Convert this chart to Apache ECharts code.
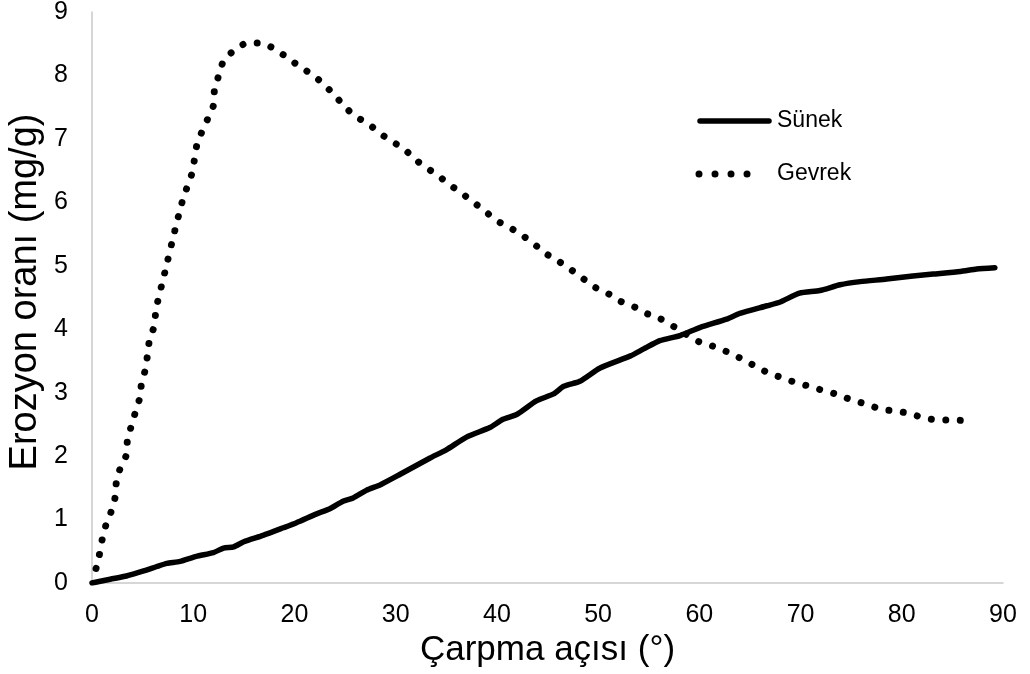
<!DOCTYPE html>
<html>
<head>
<meta charset="utf-8">
<script src="https://cdn.jsdelivr.net/npm/echarts@6/dist/echarts.min.js"></script>
<style>
html,body{margin:0;padding:0;background:#fff;}
#c{width:1030px;height:674px;}
</style>
</head>
<body>
<div id="c"></div>
<script>
const xTicks = [0,10,20,30,40,50,60,70,80,90];
const yTicks = [0,1,2,3,4,5,6,7,8,9];
const seriesNames = ['Sünek','Gevrek'];
const xTitle = 'Çarpma açısı (°)';
const yTitle = 'Erozyon oranı (mg/g)';

const sunekX = [0,1.8,3.4,5.1,6.4,7.4,8.7,10.3,12.0,13.0,14.0,15.0,16.9,18.9,20.2,22.2,23.5,24.8,25.8,27.1,28.5,30.4,33.4,35.0,37.0,39.3,40.6,42.0,43.9,45.6,46.6,48.2,50.2,53.2,54.5,56.1,58.1,60.1,62.7,64.0,66.7,68.0,69.9,71.9,73.9,75.9,78.5,81.1,83.1,85.8,87.4,89.2];
const sunekY = [0,0.06,0.11,0.19,0.26,0.31,0.34,0.42,0.48,0.55,0.57,0.65,0.75,0.87,0.95,1.09,1.17,1.29,1.34,1.46,1.55,1.71,1.97,2.1,2.3,2.45,2.58,2.66,2.87,2.98,3.1,3.18,3.39,3.58,3.69,3.82,3.9,4.03,4.16,4.25,4.37,4.43,4.57,4.61,4.7,4.75,4.79,4.84,4.87,4.91,4.95,4.97];

const gevrekX = [0.4,0.72,1.0,1.35,1.88,2.27,2.4,2.77,3.4,3.5,3.89,4.3,4.74,4.9,5.3,5.5,5.7,6.2,6.3,7.2,8.1,9.0,9.9,10.4,11.5,12.0,12.1,12.5,13.0,14.0,15.3,16.8,18.2,19.4,20.6,21.8,22.9,23.9,24.9,25.95,27.2,28.35,29.6,30.8,31.8,33.0,34.2,35.4,36.55,37.7,38.9,40.0,41.3,42.5,43.7,44.85,46.1,47.3,48.5,49.7,51.0,52.2,53.6,54.9,56.2,57.5,58.7,60.0,61.4,62.8,64.1,65.4,66.7,68.1,69.5,70.9,72.3,73.7,75.1,76.5,77.9,79.4,80.8,82.2,83.7,85.2,86.6];
const gevrekY = [0.23,0.44,0.68,0.9,1.12,1.34,1.58,1.8,2.02,2.25,2.48,2.7,2.93,3.16,3.38,3.62,3.85,4.07,4.3,4.9,5.5,6.06,6.47,6.93,7.34,7.53,7.77,7.99,8.23,8.39,8.51,8.51,8.4,8.27,8.13,8.01,7.86,7.7,7.52,7.36,7.25,7.1,6.96,6.85,6.69,6.55,6.42,6.27,6.14,6.0,5.85,5.71,5.6,5.48,5.34,5.19,5.07,4.94,4.8,4.66,4.56,4.44,4.35,4.24,4.16,4.04,3.92,3.8,3.73,3.64,3.54,3.43,3.32,3.24,3.16,3.1,3.03,2.97,2.88,2.82,2.74,2.71,2.67,2.6,2.57,2.57,2.55];

const zip = (xs, ys) => xs.map((x, i) => [x, ys[i]]);
const FONT = "'Liberation Sans', Arial, sans-serif";
const solidStyle = {color: '#000', width: 5.5, cap: 'round', join: 'round'};
const dotStyle = {color: '#000', width: 7, type: [0.01, 14.5], cap: 'round', join: 'round'};

const chart = echarts.init(document.getElementById('c'), null, {renderer: 'canvas'});
chart.setOption({
  backgroundColor: '#fff',
  animation: false,
  grid: {left: 92, right: 27, top: 12, bottom: 91, containLabel: false, outerBoundsMode: 'none'},
  legend: {show: false, data: seriesNames},
  graphic: [
    {type: 'line', shape: {x1: 700, y1: 121, x2: 769, y2: 121},
     style: {stroke: '#000', lineWidth: 5.5, lineCap: 'round'}},
    {type: 'text', x: 777, y: 121,
     style: {text: seriesNames[0], font: "23px 'Liberation Sans', Arial, sans-serif", fill: '#000', textAlign: 'left', textVerticalAlign: 'middle'}},
    {type: 'line', shape: {x1: 699, y1: 174, x2: 763, y2: 174},
     style: {stroke: '#000', lineWidth: 7, lineCap: 'round', lineDash: [0.01, 16]}},
    {type: 'text', x: 777, y: 174,
     style: {text: seriesNames[1], font: "23px 'Liberation Sans', Arial, sans-serif", fill: '#000', textAlign: 'left', textVerticalAlign: 'middle'}},
    {type: 'text', x: 26, y: 292, rotation: Math.PI / 2,
     style: {text: yTitle, font: "38px 'Liberation Sans', Arial, sans-serif", fill: '#000', textAlign: 'center', textVerticalAlign: 'middle'}}
  ],
  xAxis: {
    type: 'value',
    min: xTicks[0], max: xTicks[xTicks.length - 1], interval: 10,
    name: xTitle,
    nameLocation: 'middle',
    nameGap: 47,
    nameTextStyle: {fontFamily: FONT, fontSize: 35, color: '#000'},
    axisLine: {show: true, lineStyle: {color: '#c9c9c9', width: 1.5}},
    axisTick: {show: false},
    splitLine: {show: false},
    axisLabel: {fontFamily: FONT, fontSize: 25, color: '#000', margin: 20,
      formatter: v => xTicks.includes(v) ? String(v) : ''}
  },
  yAxis: {
    type: 'value',
    min: yTicks[0], max: yTicks[yTicks.length - 1], interval: 1,
    axisLine: {show: true, lineStyle: {color: '#c9c9c9', width: 1.5}},
    axisTick: {show: false},
    splitLine: {show: false},
    axisLabel: {fontFamily: FONT, fontSize: 25, color: '#000', margin: 24,
      formatter: v => yTicks.includes(v) ? String(v) : ''}
  },
  series: [
    {
      name: seriesNames[0],
      type: 'line',
      data: zip(sunekX, sunekY),
      symbol: 'none',
      smooth: 0.2,
      z: 3,
      color: '#000',
      lineStyle: solidStyle
    },
    {
      name: seriesNames[1],
      type: 'line',
      data: zip(gevrekX, gevrekY),
      symbol: 'none',
      smooth: 0.2,
      z: 2,
      color: '#000',
      lineStyle: dotStyle
    }
  ]
});
</script>
</body>
</html>
